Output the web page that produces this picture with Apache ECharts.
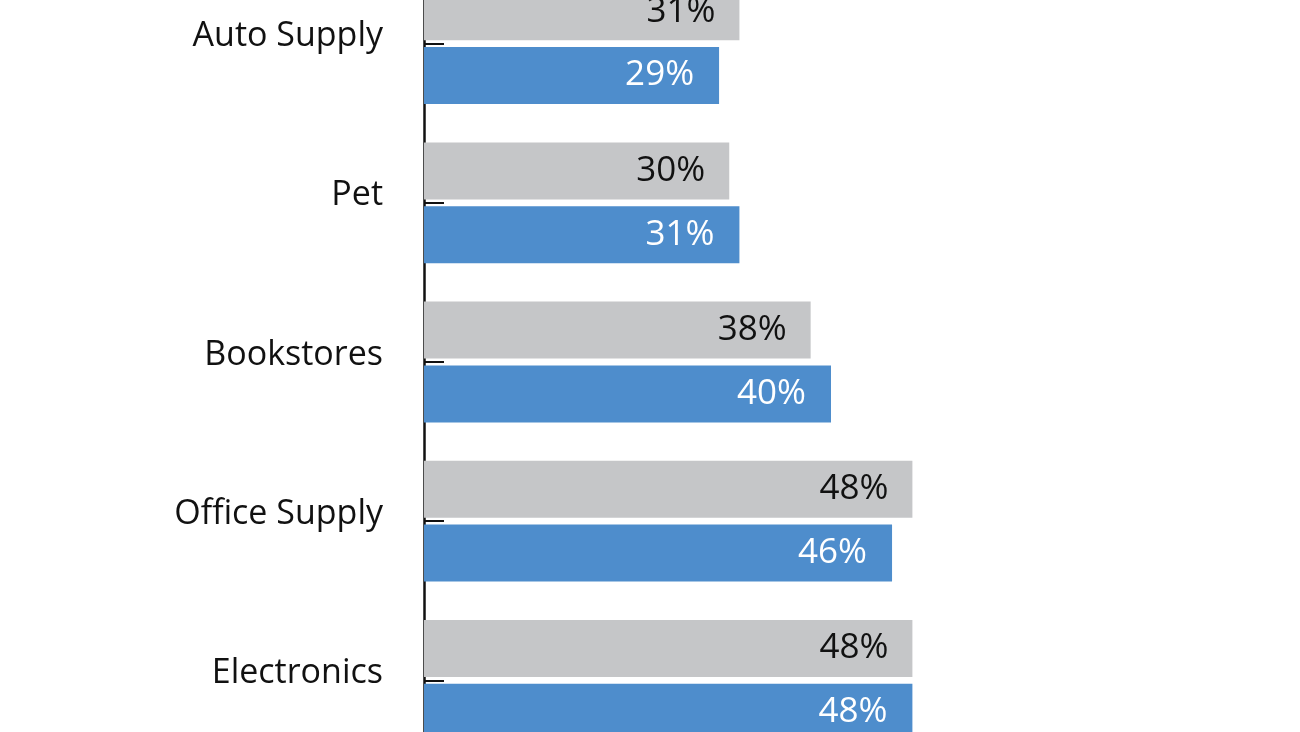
<!DOCTYPE html>
<html>
<head>
<meta charset="utf-8">
<script src="https://cdn.jsdelivr.net/npm/echarts@6/dist/echarts.min.js"></script>
<style>
html,body{margin:0;padding:0;width:1300px;height:732px;overflow:hidden;background:#fff;}
#chart{position:absolute;left:0;top:-36px;width:1300px;height:800px;}
</style>
</head>
<body>
<div id="chart"></div>
<script>
const categories = ['Auto Supply', 'Pet', 'Bookstores', 'Office Supply', 'Electronics'];
const grayValues = [31, 30, 38, 48, 48];
const blueValues = [29, 31, 40, 46, 48];

const chart = echarts.init(document.getElementById('chart'), null, {renderer: 'canvas'});
const FONT = '"Open Sans", "Noto Sans", sans-serif';
chart.setOption({
  animation: false,
  backgroundColor: '#ffffff',
  grid: {left: 424, top: 0, width: 814, height: 796, containLabel: false},
  xAxis: {
    type: 'value', min: 0, max: 80, show: false
  },
  yAxis: {
    type: 'category',
    data: categories,
    inverse: true,
    axisLine: {show: true, lineStyle: {color: '#111', width: 2.5}},
    axisTick: {show: true, inside: true, alignWithLabel: true, length: 20, lineStyle: {color: '#111', width: 2}},
    axisLabel: {
      color: '#111', fontFamily: FONT, fontSize: 34, margin: 41,
      verticalAlign: 'bottom', lineHeight: 14
    },
    splitLine: {show: false}
  },
  series: [
    {
      name: 'Gray', type: 'bar', data: grayValues, barWidth: 57, barGap: '12%',
      itemStyle: {color: '#c5c6c8'},
      label: {show: true, position: 'insideRight', distance: 24, color: '#111',
        fontFamily: FONT, fontSize: 35, formatter: p => p.value + '%'}
    },
    {
      name: 'Blue', type: 'bar', data: blueValues, barWidth: 57, barGap: '12%',
      itemStyle: {color: '#4e8dcc'},
      label: {show: true, position: 'insideRight', distance: 25, color: '#ffffff',
        fontFamily: FONT, fontSize: 35, formatter: p => p.value + '%'}
    }
  ]
});
</script>
</body>
</html>
